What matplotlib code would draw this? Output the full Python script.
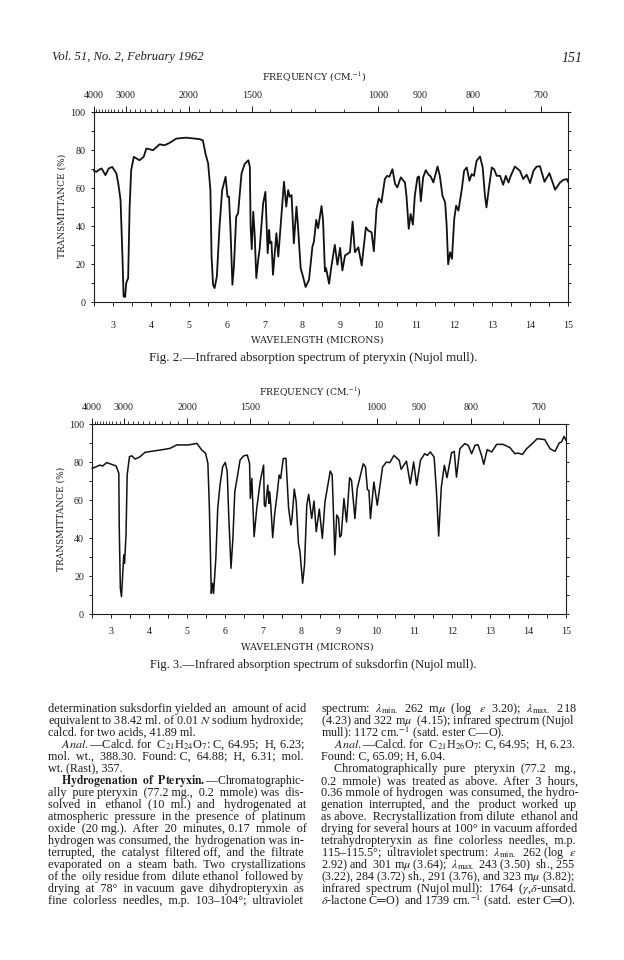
import matplotlib
matplotlib.use("Agg")
import matplotlib.pyplot as plt

plt.rcParams['font.family'] = ['Liberation Serif', 'DejaVu Serif']
plt.rcParams['mathtext.fontset'] = 'stix'

W, H = 624, 960
INK = '#1c1c1c'

# ---------- data read from the page ----------
wl_pteryxin = [2.5,2.56,2.65,2.70,2.80,2.89,2.98,3.09,3.14,3.20,3.25,3.28,3.32,3.35,3.40,3.44,3.48,3.55,3.70,3.81,3.88,4.06,4.23,4.36,4.49,4.67,4.93,5.15,5.29,5.37,5.44,5.51,5.57,5.60,5.64,5.68,5.74,5.81,5.88,5.97,6.02,6.06,6.10,6.15,6.19,6.25,6.30,6.39,6.47,6.57,6.61,6.63,6.66,6.70,6.74,6.78,6.83,6.87,6.96,7.02,7.08,7.12,7.14,7.18,7.22,7.31,7.36,7.44,7.51,7.57,7.62,7.66,7.71,7.77,7.84,7.88,7.95,8.01,8.08,8.17,8.26,8.30,8.36,8.41,8.50,8.54,8.59,8.62,8.70,8.76,8.85,8.92,
8.99,9.05,9.12,9.25,9.32,9.38,9.47,9.56,9.67,9.73,9.82,9.88,9.95,10.01,10.08,10.17,10.23,10.29,10.37,10.44,10.50,10.59,10.70,10.74,10.80,10.85,10.91,10.96,11.03,11.07,11.12,11.18,11.25,11.32,11.38,11.45,11.56,11.62,11.69,11.76,11.80,11.84,11.89,11.94,12.00,12.05,12.11,12.20,12.26,12.33,12.40,12.46,12.52,12.59,12.68,12.75,12.81,12.85,12.91,12.99,13.05,13.12,13.21,13.29,13.36,13.43,13.49,13.60,13.73,13.82,13.91,14.00,14.09,14.17,14.26,14.38,14.51,14.66,14.79,14.88,14.97,15.0]
t_pteryxin = [69.1,68.5,69.8,70.3,66.8,70.3,71.1,67.7,62.4,53.7,24.0,3.0,2.6,10.0,12.6,50.2,69.4,76.4,74.6,76.4,80.8,79.9,83.0,82.5,83.7,86.0,86.5,86.0,85.7,85.1,78.1,72.9,58.9,23.9,9.1,7.3,13.5,39.7,58.9,65.9,55.4,55.4,37.9,9.1,18.7,44.9,46.7,67.6,72.5,74.6,71.1,39.7,27.8,47.5,34.4,12.6,22.2,28.3,51.9,58.0,25.7,37.9,30.9,31.8,14.3,36.2,23.9,44.9,63.3,50.2,58.9,55.4,56.3,30.9,50.2,39.7,17.8,13.5,7.9,11.7,29.2,31.8,43.2,38.8,50.5,43.2,16.1,17.8,9.6,18.7,30.1,19.6,
28.5,16.6,24.5,26.2,42.3,26.2,28.8,19.2,39.3,37.6,36.7,26.7,49.0,54.5,52.4,64.7,66.4,65.9,69.9,62.1,60.3,65.6,62.9,55.9,38.5,46.3,40.7,55.9,65.6,66.1,53.0,65.6,69.4,67.0,66.1,62.9,71.3,66.4,55.9,52.4,40.2,19.8,26.2,22.7,43.7,50.7,48.1,59.4,69.1,70.8,63.8,67.3,66.4,74.3,76.6,70.8,55.9,49.8,59.4,70.8,69.9,66.4,66.4,61.7,66.4,62.9,66.4,71.3,69.1,64.7,67.0,62.6,69.1,71.2,71.5,63.3,67.8,59.1,62.9,64.3,64.7,63.3]

wl_suksdorfin = [2.50,2.61,2.70,2.77,2.88,3.01,3.13,3.20,3.21,3.24,3.27,3.30,3.33,3.35,3.39,3.42,3.48,3.54,3.63,3.76,3.89,4.11,4.29,4.55,4.73,4.90,5.04,5.26,5.39,5.49,5.55,5.59,5.63,5.64,5.67,5.70,5.76,5.81,5.87,5.94,6.01,6.06,6.10,6.16,6.21,6.26,6.31,6.40,6.49,6.59,6.65,6.67,6.71,6.73,6.77,6.84,6.93,7.02,7.04,7.07,7.13,7.16,7.18,7.21,7.26,7.31,7.39,7.43,7.47,7.54,7.61,7.68,7.74,7.77,7.83,7.88,7.94,7.98,8.05,8.10,8.16,8.21,8.29,8.35,8.41,8.49,8.57,8.64,8.78,8.83,8.90,8.95,9.00,
9.03,9.07,9.14,9.21,9.29,9.34,9.43,9.49,9.65,9.71,9.76,9.80,9.84,9.93,10.02,10.16,10.26,10.35,10.46,10.60,10.65,10.79,10.89,10.98,11.06,11.16,11.27,11.34,11.42,11.52,11.58,11.64,11.71,11.79,11.86,11.98,12.05,12.11,12.20,12.33,12.42,12.51,12.60,12.68,12.77,12.83,12.92,13.04,13.17,13.34,13.52,13.65,13.74,13.85,13.96,14.09,14.24,14.44,14.58,14.71,14.82,14.88,14.95,15.0]
t_suksdorfin = [76.7,77.6,78.4,77.9,79.7,78.8,77.9,74.1,46.9,13.7,9.3,20.7,31.2,26.8,41.7,73.2,82.8,83.3,81.6,82.8,85.1,85.8,86.3,87.2,89.0,89.0,89.0,89.8,86.3,84.6,79.3,55.7,20.7,11.0,16.3,11.0,29.4,55.7,67.9,77.6,79.8,74.9,52.2,24.2,39.9,64.4,70.2,81.1,83.2,83.7,79.3,60.9,71.4,60.9,40.8,55.7,69.7,78.4,57.4,56.6,67.9,58.3,64.4,57.4,40.3,52.2,65.3,73.2,71.4,81.9,81.9,55.7,46.9,50.4,65.8,59.2,37.3,32.9,16.3,25.9,57.4,63.0,50.4,59.5,43.4,55.3,39.9,59.2,75.3,73.2,31.2,52.2,50.4,
40.6,41.5,60.8,48.5,71.8,70.4,50.3,66.0,79.1,77.4,65.5,65.1,50.3,69.5,57.3,77.4,80.0,79.7,83.5,80.9,76.2,80.5,68.6,80.0,67.8,80.9,84.4,83.5,85.3,82.6,65.1,41.1,66.9,78.3,71.8,84.9,85.6,72.1,87.0,89.7,88.8,84.4,88.8,89.1,83.5,78.8,86.5,85.3,89.3,89.3,87.6,84.4,84.7,84.0,87.0,89.3,92.3,91.8,87.0,85.6,90.0,90.5,93.5,91.4]

wl_ticks = list(range(3, 16))
wl_minor = [2.5 + i for i in range(13)]
t_ticks = [0, 20, 40, 60, 80, 100]
t_minor = [10, 30, 50, 70, 90]
freq_major = [4000, 3000, 2000, 1500, 1000, 900, 800, 700]
freq_minor = [3900,3800,3700,3600,3500,3400,3300,3200,3100,2900,2800,2700,2600,2500,2400,2300,2200,2100,
              1900,1800,1700,1600,1400,1300,1200,1100,950,850,750]

left_col = [
 (0, "determination suksdorfin yielded an amount of acid", True),
 (0, "equivalent to 38.42 ml. of 0.01 $\\mathit{N}$ sodium hydroxide;", True),
 (0, "calcd. for two acids, 41.89 ml.", False),
 (13, "$\\mathit{Anal.}$—Calcd. for C$_{21}$H$_{24}$O$_{7}$: C, 64.95; H, 6.23;", True),
 (0, "mol. wt., 388.30. Found: C, 64.88; H, 6.31; mol.", True),
 (0, "wt. (Rast), 357.", False),
 (13, "$\\mathbf{Hydrogenation\\ \\ of\\ \\ Pteryxin.}$—Chromatographic-", True),
 (0, "ally pure pteryxin (77.2 mg., 0.2 mmole) was dis-", True),
 (0, "solved in ethanol (10 ml.) and hydrogenated at", True),
 (0, "atmospheric pressure in the presence of platinum", True),
 (0, "oxide (20 mg.). After 20 minutes, 0.17 mmole of", True),
 (0, "hydrogen was consumed, the hydrogenation was in-", True),
 (0, "terrupted, the catalyst filtered off, and the filtrate", True),
 (0, "evaporated on a steam bath. Two crystallizations", True),
 (0, "of the oily residue from dilute ethanol followed by", True),
 (0, "drying at 78° in vacuum gave dihydropteryxin as", True),
 (0, "fine colorless needles, m.p. 103–104°; ultraviolet", True),
]
right_col = [
 (0, "spectrum: $\\lambda_{\\mathrm{min.}}$ 262 m$\\mu$ (log $\\epsilon$ 3.20); $\\lambda_{\\mathrm{max.}}$ 218", True),
 (0, "(4.23) and 322 m$\\mu$ (4.15); infrared spectrum (Nujol", True),
 (0, "mull): 1172 cm.$^{-1}$ (satd. ester C—O).", False),
 (13, "$\\mathit{Anal.}$—Calcd. for C$_{21}$H$_{26}$O$_{7}$: C, 64.95; H, 6.23.", True),
 (0, "Found: C, 65.09; H, 6.04.", False),
 (13, "Chromatographically pure pteryxin (77.2 mg.,", True),
 (0, "0.2 mmole) was treated as above. After 3 hours,", True),
 (0, "0.36 mmole of hydrogen was consumed, the hydro-", True),
 (0, "genation interrupted, and the product worked up", True),
 (0, "as above. Recrystallization from dilute ethanol and", True),
 (0, "drying for several hours at 100° in vacuum afforded", True),
 (0, "tetrahydropteryxin as fine colorless needles, m.p.", True),
 (0, "115–115.5°; ultraviolet spectrum: $\\lambda_{\\mathrm{min.}}$ 262 (log $\\epsilon$", True),
 (0, "2.92) and 301 m$\\mu$ (3.64); $\\lambda_{\\mathrm{max.}}$ 243 (3.50) sh., 255", True),
 (0, "(3.22), 284 (3.72) sh., 291 (3.76), and 323 m$\\mu$ (3.82);", True),
 (0, "infrared spectrum (Nujol mull): 1764 ($\\gamma$,$\\delta$-unsatd.", True),
 (0, "$\\delta$-lactone C═O) and 1739 cm.$^{-1}$ (satd. ester C═O).", True),
]

# ---------- helpers ----------
fig = plt.figure(figsize=(W / 100, H / 100), dpi=100, facecolor='white')
renderer = fig.canvas.get_renderer()


def put(px, py, s, size=8.7, width=None, **kw):
    kw.setdefault('va', 'center')
    kw.setdefault('color', INK)
    t = fig.text(px / W, 1 - py / H, s, fontsize=size, **kw)
    if width is not None:
        w = t.get_window_extent(renderer).width
        t.set_fontsize(size * width / w)
    return t


def widen(s, extra):
    """Add `extra` further spaces across the gaps that lie outside math segments."""
    parts = s.split('$')
    gaps = []
    for i in range(0, len(parts), 2):
        for j, ch in enumerate(parts[i]):
            if ch == ' ':
                gaps.append((i, j))
    if not gaps or extra <= 0:
        return s
    count = {}
    for k in range(extra):
        g = gaps[int((k + 0.5) * len(gaps) / extra) % len(gaps)]
        count[g] = count.get(g, 0) + 1
    for i in range(0, len(parts), 2):
        out = ''
        for j, ch in enumerate(parts[i]):
            out += ch
            if ch == ' ':
                out += ' ' * count.get((i, j), 0)
        parts[i] = out
    return '$'.join(parts)


def justified(px, py, s, width, size=8.7):
    """Keep the type size close to nominal: open up word gaps, then fine-fit the size."""
    t = fig.text(px / W, 1 - py / H, s, fontsize=size, va='center', color=INK)
    best = s
    for extra in range(0, 14):
        cand = widen(s, extra)
        t.set_text(cand)
        w = t.get_window_extent(renderer).width
        best = cand
        if w >= width * 0.985:
            break
    t.set_text(best)
    w = t.get_window_extent(renderer).width
    t.set_fontsize(size * width / w)
    return t


def spectrum(x0, x1, y100, y0, wl, tr, lw, bottom_pad, freq_title, wave_title, caption, ylab_x, ylab_y):
    ax = fig.add_axes([x0 / W, 1 - y0 / H, (x1 - x0) / W, (y0 - y100) / H])
    ax.plot(wl, tr, color='#111111', lw=lw, solid_joinstyle='round', clip_on=False)
    ax.set_xlim(2.5, 15)
    ax.set_ylim(0, 100)
    for s in ax.spines.values():
        s.set_linewidth(0.8)
        s.set_color(INK)
    ax.set_xticks(wl_ticks)
    ax.set_xticks(wl_minor, minor=True)
    ax.set_yticks(t_ticks)
    ax.set_yticks(t_minor, minor=True)
    ax.tick_params(axis='x', which='both', direction='out', length=3, width=0.7, color=INK)
    ax.tick_params(axis='x', which='major', pad=bottom_pad, labelsize=7.2, labelcolor=INK)
    ax.tick_params(axis='y', which='both', direction='out', length=2.5, width=0.7, color=INK,
                   right=True)
    ax.tick_params(axis='y', which='major', pad=3.5, labelsize=7.2, labelcolor=INK)
    top = ax.twiny()
    top.set_xlim(2.5, 15)
    for s in top.spines.values():
        s.set_visible(False)
    top.set_xticks([1e4 / f for f in freq_major])
    top.set_xticklabels([str(f) for f in freq_major])
    top.set_xticks([1e4 / f for f in freq_minor], minor=True)
    top.tick_params(axis='x', which='major', direction='out', length=4.5, width=0.7, color=INK,
                    pad=4.5, labelsize=7.2, labelcolor=INK)
    top.tick_params(axis='x', which='minor', direction='out', length=2, width=0.6, color=INK)
    put(freq_title[0], freq_title[1], "FREQUENCY (CM.$^{-1}$)", size=6.5, width=freq_title[2],
        family=['DejaVu Serif'])
    put(wave_title[0], wave_title[1], "WAVELENGTH (MICRONS)", size=6.5, width=wave_title[2],
        family=['DejaVu Serif'])
    put(caption[0], caption[1], caption[2], size=9, width=caption[3])
    put(ylab_x, ylab_y, "TRANSMITTANCE (%)", size=6.5, rotation=90, ha='center',
        family=['DejaVu Serif'])


def column(x, lines, width):
    py = 709
    for indent, s, justify in lines:
        if justify:
            justified(x + indent, py, s, width - indent)
        else:
            put(x + indent, py, s, size=8.7)
        py += 12.0


# ---------- page ----------
put(52, 57, "Vol. 51, No. 2, February 1962", size=10, width=152, style='italic')
put(561, 58, "151", size=10, style='italic')

spectrum(94, 568, 112, 302, wl_pteryxin, t_pteryxin, 1.3, 10.5,
         (262, 77, 104), (251, 340, 133),
         (149, 358, "Fig. 2.—Infrared absorption spectrum of pteryxin (Nujol mull).", 330),
         62, 206)
spectrum(92.3, 566, 424, 614.3, wl_suksdorfin, t_suksdorfin, 1.1, 6,
         (259, 392, 103), (241, 647, 133),
         (150, 665, "Fig. 3.—Infrared absorption spectrum of suksdorfin (Nujol mull).", 327),
         61, 519)

column(48, left_col, 257)
column(321, right_col, 256)

fig.savefig('out.png', dpi=100, facecolor='white')
